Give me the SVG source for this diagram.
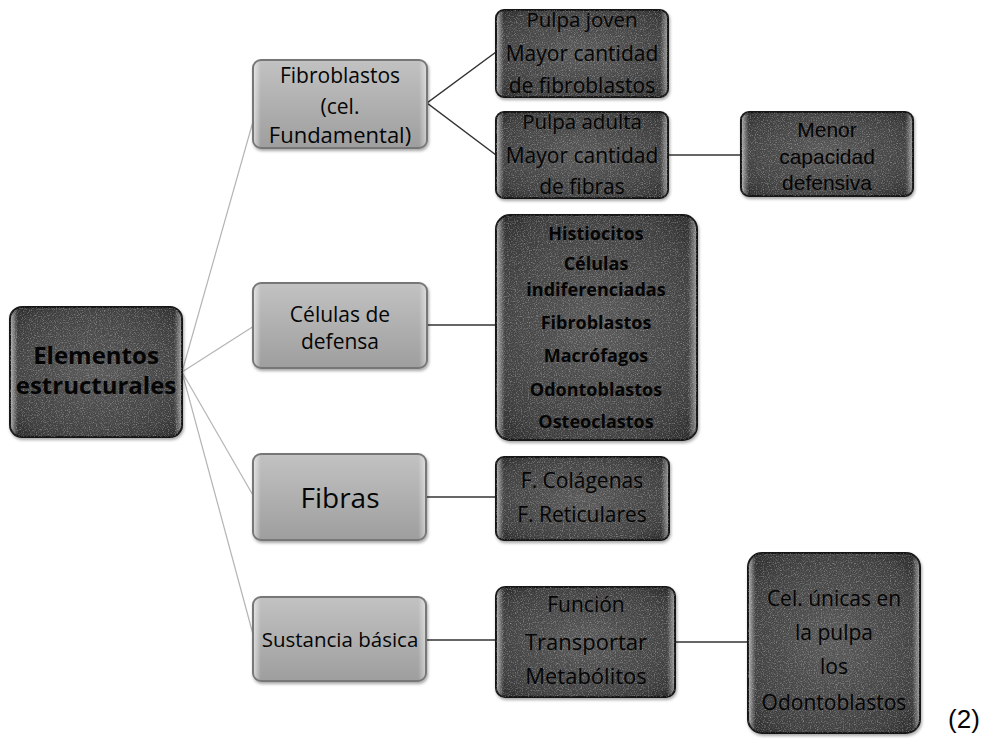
<svg xmlns="http://www.w3.org/2000/svg" width="987" height="753" viewBox="0 0 987 753">
  <defs>
    <linearGradient id="lightFill" x1="0" y1="0" x2="0" y2="1">
      <stop offset="0" stop-color="#c2c2c2"/>
      <stop offset="0.5" stop-color="#b0b0b0"/>
      <stop offset="1" stop-color="#9e9e9e"/>
    </linearGradient>
    <radialGradient id="darkFill" cx="0.5" cy="0.5" r="0.75">
      <stop offset="0" stop-color="#5a5a5a"/>
      <stop offset="0.7" stop-color="#404040"/>
      <stop offset="1" stop-color="#222"/>
    </radialGradient>
    <linearGradient id="sheen" x1="0" y1="0" x2="1" y2="0">
      <stop offset="0" stop-color="#fff" stop-opacity="0.55"/>
      <stop offset="0.04" stop-color="#fff" stop-opacity="0"/>
      <stop offset="0.96" stop-color="#fff" stop-opacity="0"/>
      <stop offset="1" stop-color="#fff" stop-opacity="0.45"/>
    </linearGradient>
    <!-- speckle texture clipped to the shape it is applied to -->
    <filter id="noise" x="0" y="0" width="100%" height="100%">
      <feTurbulence type="fractalNoise" baseFrequency="0.85" numOctaves="2" seed="5" result="n"/>
      <feColorMatrix in="n" type="matrix" values="0 0 0 0 0.75  0 0 0 0 0.75  0 0 0 0 0.75  0 0 0 2.2 -1.05" result="dots"/>
      <feComposite in="dots" in2="SourceAlpha" operator="in"/>
    </filter>
    <filter id="shadow" x="-10%" y="-10%" width="120%" height="120%">
      <feGaussianBlur in="SourceAlpha" stdDeviation="1.5"/>
      <feOffset dx="1" dy="2" result="b"/>
      <feFlood flood-color="#000" flood-opacity="0.35"/>
      <feComposite in2="b" operator="in"/>
      <feMerge><feMergeNode/><feMergeNode in="SourceGraphic"/></feMerge>
    </filter>
  </defs>
  <style>
    .light { fill: url(#lightFill); stroke: #777; stroke-width: 2; filter: url(#shadow); }
    .dark { fill: url(#darkFill); stroke: #161616; stroke-width: 2; filter: url(#shadow); }
    .sheen { fill: url(#sheen); stroke: none; }
    .grain { fill: #000; filter: url(#noise); opacity: 0.5; }
    text { font-family: "Open Sans", "Noto Sans", "Liberation Sans", sans-serif; text-anchor: middle; fill: #050505; }
    .b { font-weight: bold; }
    .arial { font-family: "Liberation Sans", Arial, sans-serif; }
    .thin { fill: none; stroke: #b4b4b4; stroke-width: 1.2; }
    .conn { fill: none; stroke: #333; stroke-width: 1.5; }
  </style>

  <!-- connectors -->
  <g id="connectors">
    <line class="thin" x1="182" y1="372" x2="254" y2="118"/>
    <line class="thin" x1="182" y1="372" x2="254" y2="326"/>
    <line class="thin" x1="182" y1="372" x2="254" y2="497"/>
    <line class="thin" x1="182" y1="372" x2="254" y2="638"/>
    <polyline class="conn" points="496,52 427,103 496,155"/>
    <line class="conn" x1="427" y1="325" x2="496" y2="325"/>
    <line class="conn" x1="426" y1="497" x2="496" y2="497"/>
    <line class="conn" x1="426" y1="640" x2="496" y2="640"/>
    <line class="conn" x1="668" y1="155" x2="741" y2="155"/>
    <line class="conn" x1="675" y1="642" x2="748" y2="642"/>
  </g>

  <!-- root -->
  <g id="elementos">
    <rect class="dark" x="10" y="307" width="172" height="130" rx="12"/>
    <rect class="grain" x="10" y="307" width="172" height="130" rx="12"/>
    <rect class="sheen" x="11" y="308" width="170" height="128" rx="11"/>
    <text class="b" x="96" y="364" font-size="24">Elementos</text>
    <text class="b" x="96" y="394" font-size="24">estructurales</text>
  </g>

  <!-- first level -->
  <g id="fibroblastos">
    <rect class="light" x="253" y="60" width="174" height="88" rx="8"/>
    <rect class="sheen" x="254" y="61" width="172" height="86" rx="7"/>
    <text x="340" y="83" font-size="21">Fibroblastos</text>
    <text x="340" y="114" font-size="21">(cel.</text>
    <text x="340" y="143" font-size="22">Fundamental)</text>
  </g>
  <g id="celulas-defensa">
    <rect class="light" x="253" y="283" width="174" height="85" rx="8"/>
    <rect class="sheen" x="254" y="284" width="172" height="83" rx="7"/>
    <text x="340" y="322" font-size="21">Células de</text>
    <text x="340" y="349" font-size="21">defensa</text>
  </g>
  <g id="fibras">
    <rect class="light" x="253" y="454" width="173" height="86" rx="8"/>
    <rect class="sheen" x="254" y="455" width="171" height="84" rx="7"/>
    <text x="340" y="508" font-size="28">Fibras</text>
  </g>
  <g id="sustancia">
    <rect class="light" x="253" y="597" width="173" height="84" rx="8"/>
    <rect class="sheen" x="254" y="598" width="171" height="82" rx="7"/>
    <text x="340" y="647" font-size="20.5">Sustancia básica</text>
  </g>

  <!-- second level -->
  <g id="pulpa-joven">
    <rect class="dark" x="496" y="10" width="172" height="87" rx="8"/>
    <rect class="grain" x="496" y="10" width="172" height="87" rx="8"/>
    <rect class="sheen" x="497" y="11" width="170" height="85" rx="7"/>
    <text x="582" y="27" font-size="20.5">Pulpa joven</text>
    <text x="582" y="61" font-size="21">Mayor cantidad</text>
    <text x="582" y="93" font-size="21">de fibroblastos</text>
  </g>
  <g id="pulpa-adulta">
    <rect class="dark" x="496" y="112" width="172" height="86" rx="8"/>
    <rect class="grain" x="496" y="112" width="172" height="86" rx="8"/>
    <rect class="sheen" x="497" y="113" width="170" height="84" rx="7"/>
    <text x="582" y="129" font-size="20.5">Pulpa adulta</text>
    <text x="582" y="163" font-size="21">Mayor cantidad</text>
    <text x="582" y="194" font-size="21">de fibras</text>
  </g>
  <g id="tipos-celulas">
    <rect class="dark" x="496" y="215" width="201" height="225" rx="14"/>
    <rect class="grain" x="496" y="215" width="201" height="225" rx="14"/>
    <rect class="sheen" x="497" y="216" width="199" height="223" rx="13"/>
    <text class="b" x="596" y="240" font-size="18">Histiocitos</text>
    <text class="b" x="596" y="270" font-size="18">Células</text>
    <text class="b" x="596" y="296" font-size="18">indiferenciadas</text>
    <text class="b" x="596" y="329" font-size="18">Fibroblastos</text>
    <text class="b" x="596" y="362" font-size="18">Macrófagos</text>
    <text class="b" x="596" y="396" font-size="18">Odontoblastos</text>
    <text class="b" x="596" y="428" font-size="18">Osteoclastos</text>
  </g>
  <g id="tipos-fibras">
    <rect class="dark" x="496" y="457" width="173" height="83" rx="8"/>
    <rect class="grain" x="496" y="457" width="173" height="83" rx="8"/>
    <rect class="sheen" x="497" y="458" width="171" height="81" rx="7"/>
    <text x="582" y="488" font-size="21">F. Colágenas</text>
    <text x="582" y="522" font-size="21">F. Reticulares</text>
  </g>
  <g id="funcion">
    <rect class="dark" x="496" y="587" width="179" height="110" rx="9"/>
    <rect class="grain" x="496" y="587" width="179" height="110" rx="9"/>
    <rect class="sheen" x="497" y="588" width="177" height="108" rx="8"/>
    <text x="586" y="612" font-size="21">Función</text>
    <text x="586" y="650" font-size="22">Transportar</text>
    <text x="586" y="684" font-size="22">Metabólitos</text>
  </g>

  <!-- third level -->
  <g id="menor-capacidad">
    <rect class="dark" x="741" y="112" width="172" height="84" rx="8"/>
    <rect class="grain" x="741" y="112" width="172" height="84" rx="8"/>
    <rect class="sheen" x="742" y="113" width="170" height="82" rx="7"/>
    <text class="arial" x="827" y="137" font-size="21">Menor</text>
    <text class="arial" x="827" y="164" font-size="21">capacidad</text>
    <text class="arial" x="827" y="190" font-size="21">defensiva</text>
  </g>
  <g id="celulas-unicas">
    <rect class="dark" x="748" y="553" width="172" height="180" rx="14"/>
    <rect class="grain" x="748" y="553" width="172" height="180" rx="14"/>
    <rect class="sheen" x="749" y="554" width="170" height="178" rx="13"/>
    <text x="834" y="606" font-size="21">Cel. únicas en</text>
    <text x="834" y="640" font-size="21">la pulpa</text>
    <text x="834" y="674" font-size="21">los</text>
    <text x="834" y="710" font-size="21">Odontoblastos</text>
  </g>

  <text class="arial" x="964" y="728" font-size="26">(2)</text>
</svg>
